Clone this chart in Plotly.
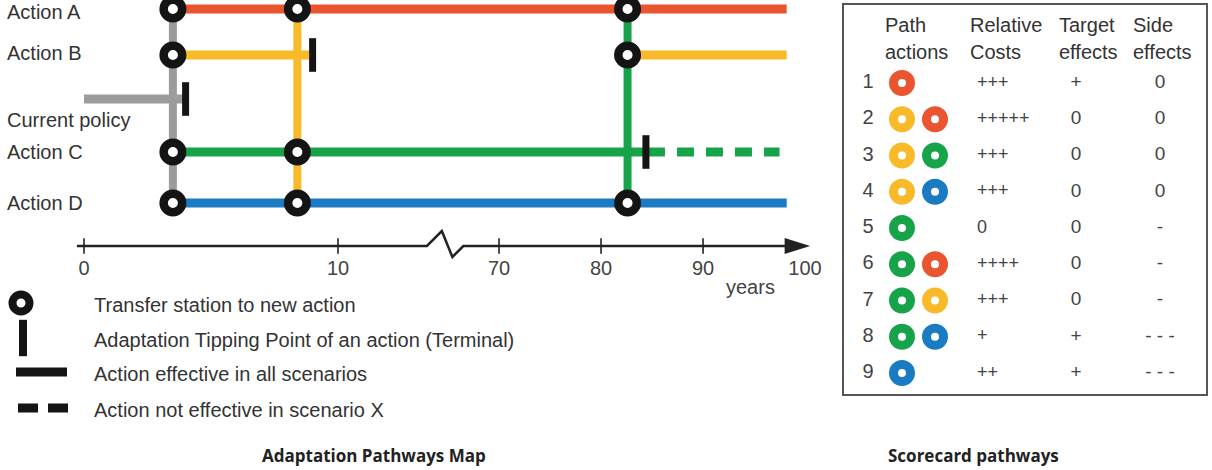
import plotly.graph_objects as go

# ------------------------------------------------------------------ data
# Adaptation pathways map (years)
ACTION_KEYS = ["A", "B", "CP", "C", "D"]
ACTION_LABELS = ["Action A", "Action B", "Current policy", "Action C", "Action D"]

# effective (solid) periods of each action
SEG_ACTION = ["A", "B", "B", "CP", "C", "D"]
SEG_START = [3.5, 3.5, 82.6, 0.0, 3.5, 3.5]
SEG_END = [98.2, 9.0, 98.2, 4.0, 84.4, 98.2]

# periods where the action is not effective in scenario X (dashed)
DASH_ACTION = ["C"]
DASH_START = [84.4]
DASH_END = [97.5]

# transfer stations: year and actions reachable there
TRANSFER_YEARS = [3.5, 8.4, 82.6]
TRANSFER_ACTIONS = [["A", "B", "C", "D"], ["A", "C", "D"], ["A", "B", "D"]]
TRANSFER_FROM = ["CP", "B", "C"]          # action whose tipping point leads to the transfer

# adaptation tipping points (terminals)
TIPPING_ACTION = ["CP", "B", "C"]
TIPPING_YEAR = [4.0, 9.0, 84.4]

AXIS_TICKS = [0, 10, 70, 80, 90, 100]
AXIS_TICK_MARKS = [0, 10, 70, 80, 90]
BREAK_LO, BREAK_HI = 13.5, 66.5

LEGEND_TEXT = ["Transfer station to new action",
               "Adaptation Tipping Point of an action (Terminal)",
               "Action effective in all scenarios",
               "Action not effective in scenario X"]

# Scorecard
PATH_IDS = [1, 2, 3, 4, 5, 6, 7, 8, 9]
PATH_ACTIONS = [["A"], ["B", "A"], ["B", "C"], ["B", "D"], ["C"],
                ["C", "A"], ["C", "B"], ["C", "D"], ["D"]]
REL_COSTS = ["+++", "+++++", "+++", "+++", "0", "++++", "+++", "+", "++"]
TARGET_EFFECTS = ["+", "0", "0", "0", "0", "0", "0", "+", "+"]
SIDE_EFFECTS = ["0", "0", "0", "0", "-", "-", "-", "- - -", "- - -"]
TABLE_HEADERS = [("Path", "actions"), ("Relative", "Costs"),
                 ("Target", "effects"), ("Side", "effects")]

TITLES = ["Adaptation Pathways Map", "Scorecard pathways"]

# ------------------------------------------------------------------ style / layout
W, H = 1212, 470
COLORS = {"A": "#EA5530", "B": "#F8BA28", "CP": "#9C9C9C", "C": "#17A34A", "D": "#1A7BC2"}
LANE_Y = {"A": 9, "B": 55, "CP": 99, "C": 152, "D": 203}
LABEL_DY = {"A": 3, "B": -2, "CP": 21, "C": 0, "D": 0}
AXIS_Y = 246
X0_PX, PX_PER_UNIT = 84, 25.4           # segment-1 scale (1 unit = 1 year)
SEG2_D70, SEG2_SCALE = 16.34, 0.4016    # broken axis: second segment
MAP_RIGHT_PX = 830
FONT = "Liberation Sans, Arial, sans-serif"
TXT = "#333333"
BLACK = "#141414"
LW = 9


def d(year):
    """broken time axis -> plot units"""
    return year if year < 40 else SEG2_D70 + (year - 70) * SEG2_SCALE


fig = go.Figure()

# vertical transfer connectors
for t, frm in zip(TRANSFER_YEARS, TRANSFER_FROM):
    fig.add_trace(go.Scatter(x=[d(t), d(t)], y=[LANE_Y["A"], LANE_Y["D"]], mode="lines",
                             line=dict(color=COLORS[frm], width=8), hoverinfo="skip"))

# solid action lines
for a, s, e in zip(SEG_ACTION, SEG_START, SEG_END):
    fig.add_trace(go.Scatter(x=[d(s), d(e)], y=[LANE_Y[a]] * 2, mode="lines",
                             line=dict(color=COLORS[a], width=LW), hoverinfo="skip"))
# dashed lines
for a, s, e in zip(DASH_ACTION, DASH_START, DASH_END):
    fig.add_trace(go.Scatter(x=[d(s) + 0.08, d(e)], y=[LANE_Y[a]] * 2, mode="lines",
                             line=dict(color=COLORS[a], width=LW, dash="17px,12px"),
                             hoverinfo="skip"))

# tipping points
fig.add_trace(go.Scatter(x=[d(v) for v in TIPPING_YEAR], y=[LANE_Y[a] for a in TIPPING_ACTION],
                         mode="markers", hoverinfo="skip",
                         marker=dict(symbol="line-ns", size=24, line=dict(width=7, color=BLACK))))

# transfer stations
tx, ty = [], []
for t, acts in zip(TRANSFER_YEARS, TRANSFER_ACTIONS):
    for a in acts:
        tx.append(d(t))
        ty.append(LANE_Y[a])
fig.add_trace(go.Scatter(x=tx, y=ty, mode="markers", cliponaxis=False, hoverinfo="skip",
                         marker=dict(symbol="circle", size=18.5, color="white",
                                     line=dict(width=8.5, color=BLACK))))

# time axis line with break
lo, hi = d(BREAK_LO), d(BREAK_HI)
zig_x = [d(-0.28), lo, lo + 0.41 * (hi - lo), lo + 0.70 * (hi - lo), hi, d(98.2)]
zig_y = [AXIS_Y, AXIS_Y, AXIS_Y - 15, AXIS_Y + 11, AXIS_Y, AXIS_Y]
fig.add_trace(go.Scatter(x=zig_x, y=zig_y, mode="lines", hoverinfo="skip",
                         line=dict(color="#222222", width=2.5)))
fig.add_trace(go.Scatter(x=[d(v) for v in AXIS_TICK_MARKS], y=[AXIS_Y] * len(AXIS_TICK_MARKS),
                         mode="markers", hoverinfo="skip",
                         marker=dict(symbol="line-ns", size=11, line=dict(width=1.6, color="#222222"))))
fig.add_shape(type="path", xref="x", yref="y",
              path=f"M{d(98.0)},{AXIS_Y - 8} L{d(100.5)},{AXIS_Y} L{d(98.0)},{AXIS_Y + 8} Z",
              fillcolor="#222222", line=dict(width=0))

# action labels
for k, lab in zip(ACTION_KEYS, ACTION_LABELS):
    fig.add_annotation(x=5, y=LANE_Y[k] + LABEL_DY[k], xref="x2", yref="y", text=lab,
                       showarrow=False, xanchor="left", yanchor="middle",
                       font=dict(family=FONT, size=20, color=TXT))
fig.add_annotation(x=750, y=287, xref="x2", yref="y", text="years", showarrow=False,
                   font=dict(family=FONT, size=20, color="#444444"))

# legend (manual)
LEG_Y = [303, 338, 372, 408]
fig.add_trace(go.Scatter(x=[21], y=[LEG_Y[0]], xaxis="x2", yaxis="y", mode="markers",
                         hoverinfo="skip",
                         marker=dict(symbol="circle", size=17, color="white",
                                     line=dict(width=8, color=BLACK))))
fig.add_trace(go.Scatter(x=[23], y=[LEG_Y[1]], xaxis="x2", yaxis="y", mode="markers",
                         hoverinfo="skip",
                         marker=dict(symbol="line-ns", size=26, line=dict(width=8, color=BLACK))))
fig.add_trace(go.Scatter(x=[16, 67], y=[LEG_Y[2]] * 2, xaxis="x2", yaxis="y", mode="lines",
                         hoverinfo="skip", line=dict(color=BLACK, width=9)))
fig.add_trace(go.Scatter(x=[18, 68], y=[LEG_Y[3]] * 2, xaxis="x2", yaxis="y", mode="lines",
                         hoverinfo="skip", line=dict(color=BLACK, width=9, dash="20px,10px")))
for yy, txt in zip(LEG_Y, LEGEND_TEXT):
    fig.add_annotation(x=92, y=yy + 2, xref="x2", yref="y", text=txt, showarrow=False,
                       xanchor="left", yanchor="middle",
                       font=dict(family=FONT, size=20, color=TXT))

# ------------------------------------------------------------------ scorecard
ROW1_PX, ROW_STEP = 83, 36.25
COL_NUM, RING_X0, RING_DX = 868, 902, 33
COL_COST, COL_TARGET, COL_SIDE = 977, 1076, 1160

fig.add_shape(type="rect", xref="x2", yref="y", x0=843, x1=1207, y0=4, y1=395,
              line=dict(color="#555555", width=2), fillcolor="rgba(0,0,0,0)")

hdr_x = [883, 968, 1057, 1131]
for hx, (l1, l2) in zip(hdr_x, TABLE_HEADERS):
    for yy, t in zip([25, 52], [l1, l2]):
        fig.add_annotation(x=hx, y=yy, xref="x2", yref="y", text=t, showarrow=False,
                           xanchor="left", yanchor="middle",
                           font=dict(family=FONT, size=20, color=TXT))

rx, ry, rc = [], [], []
for pid, acts in zip(PATH_IDS, PATH_ACTIONS):
    for k, a in enumerate(acts):
        rx.append(RING_X0 + k * RING_DX)
        ry.append(pid)
        rc.append(COLORS[a])
fig.add_trace(go.Scatter(x=rx, y=ry, xaxis="x2", yaxis="y2", mode="markers", hoverinfo="skip",
                         marker=dict(symbol="circle", size=17, color="white",
                                     line=dict(width=9, color=rc))))

fig.add_trace(go.Scatter(x=[COL_NUM] * len(PATH_IDS), y=PATH_IDS, xaxis="x2", yaxis="y2",
                         mode="text", text=[str(p) for p in PATH_IDS], cliponaxis=False,
                         textposition="middle center", hoverinfo="skip",
                         textfont=dict(family=FONT, size=20, color="#444444")))
fig.add_trace(go.Scatter(x=[COL_COST] * len(PATH_IDS), y=PATH_IDS, xaxis="x2", yaxis="y2",
                         mode="text", text=REL_COSTS, cliponaxis=False,
                         textposition="middle right", hoverinfo="skip",
                         textfont=dict(family=FONT, size=18, color="#444444")))
fig.add_trace(go.Scatter(x=[COL_TARGET] * len(PATH_IDS), y=PATH_IDS, xaxis="x2", yaxis="y2",
                         mode="text", text=TARGET_EFFECTS, cliponaxis=False,
                         textposition="middle center", hoverinfo="skip",
                         textfont=dict(family=FONT, size=19, color="#444444")))
fig.add_trace(go.Scatter(x=[COL_SIDE] * len(PATH_IDS), y=PATH_IDS, xaxis="x2", yaxis="y2",
                         mode="text", text=SIDE_EFFECTS, cliponaxis=False,
                         textposition="middle center", hoverinfo="skip",
                         textfont=dict(family=FONT, size=19, color="#444444")))

# titles
for tx_, t in zip([374, 973], TITLES):
    fig.add_annotation(x=tx_, y=455, xref="x2", yref="y", text=f"<b>{t}</b>", showarrow=False,
                       font=dict(family="Open Sans, sans-serif", size=17, color="#222222"))

# ------------------------------------------------------------------ axes
r_top = 1 - ROW1_PX / ROW_STEP
r_bot = 1 + (H - ROW1_PX) / ROW_STEP
fig.update_layout(
    width=W, height=H, margin=dict(l=0, r=0, t=0, b=0),
    paper_bgcolor="white", plot_bgcolor="rgba(0,0,0,0)", showlegend=False,
    xaxis=dict(domain=[0, MAP_RIGHT_PX / W],
               range=[-X0_PX / PX_PER_UNIT, (MAP_RIGHT_PX - X0_PX) / PX_PER_UNIT],
               anchor="free", position=1 - AXIS_Y / H, showgrid=False, zeroline=False,
               showline=False, ticks="", tickvals=[d(v) for v in AXIS_TICKS],
               ticktext=[str(v) for v in AXIS_TICKS], ticklabelstandoff=8,
               tickfont=dict(family=FONT, size=20, color="#444444")),
    yaxis=dict(domain=[0, 1], range=[H, 0], visible=False),
    xaxis2=dict(domain=[0, 1], range=[0, W], visible=False, anchor="y"),
    yaxis2=dict(domain=[0, 1], range=[r_bot, r_top], visible=False, anchor="x2"),
)

fig.write_html("out.html", config={"displayModeBar": False},
               post_script="document.body.style.margin='0';"
                           "document.body.style.overflow='hidden';")
